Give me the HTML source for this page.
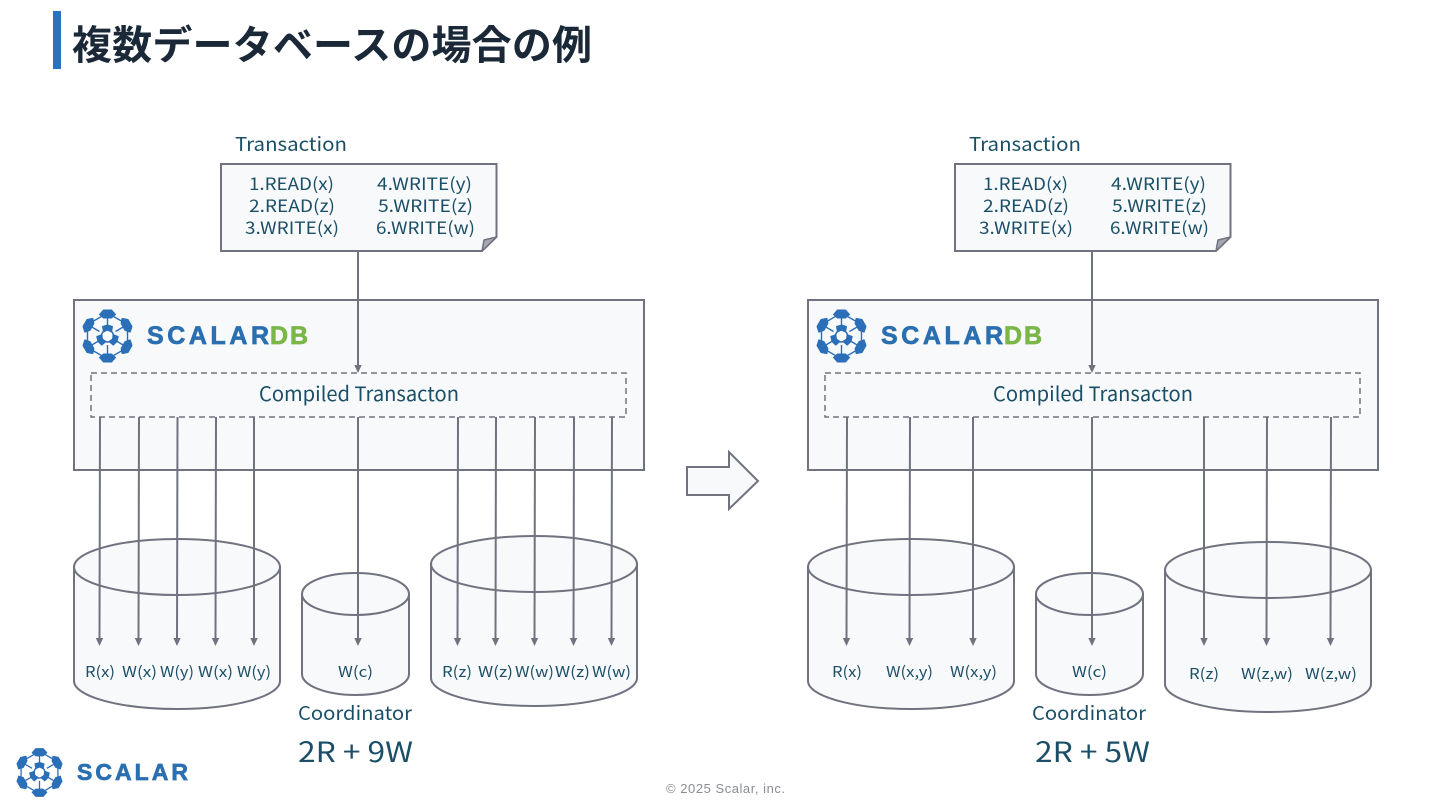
<!DOCTYPE html>
<html lang="ja"><head><meta charset="utf-8"><title>複数データベースの場合の例</title>
<style>
html,body{margin:0;padding:0;background:#fff;width:1440px;height:810px;overflow:hidden}
svg{display:block}
text{font-family:"Noto Sans CJK JP","Liberation Sans",sans-serif;fill:#1b4f67;font-weight:400}
.s{fill:#f8f9fb;stroke:#70737f;stroke-width:2}
.l{stroke:#70737f;stroke-width:2;fill:none}
</style></head><body>
<svg width="1440" height="810" viewBox="0 0 1440 810" xmlns="http://www.w3.org/2000/svg">
<defs>
<marker id="a" viewBox="0 0 8 8" refX="2" refY="4" markerWidth="8" markerHeight="8" markerUnits="userSpaceOnUse" orient="auto"><path d="M0 0.300L8 4L0 7.700Z" fill="#70737f"/></marker>
<path id="blob" d="M-8 0.500L-4 -4H4L8 0.500L4 4H-4Z" fill="#2a6fb8" stroke="#2a6fb8" stroke-width="1" stroke-linejoin="round"/>
<path id="lobe" d="M-5 -2.500L0 -4L5 -2.500L4 3L0 1L-4 3Z" fill="#2a6fb8" stroke="#2a6fb8" stroke-width="1" stroke-linejoin="round"/>
<g id="logo">
<g fill="none" stroke="#2a6fb8" stroke-width="1.400">
<path d="M0-23L20-11.500V11.500L0 23L-20 11.500V-11.500Z"/>
<path d="M0-23V-9M20-11.500L8-4.500M20 11.500L8 4.500M0 23V9M-20 11.500L-8 4.500M-20-11.500L-8-4.500"/>
</g>
<use href="#blob" transform="translate(0,-22)"/>
<use href="#blob" transform="rotate(60) translate(0,-22)"/>
<use href="#blob" transform="rotate(120) translate(0,-22)"/>
<use href="#blob" transform="rotate(180) translate(0,-22)"/>
<use href="#blob" transform="rotate(240) translate(0,-22)"/>
<use href="#blob" transform="rotate(300) translate(0,-22)"/>
<circle r="6" fill="#fff" stroke="#2a6fb8" stroke-width="1.500"/>
<use href="#lobe" transform="translate(0,-7)"/>
<use href="#lobe" transform="rotate(120) translate(0,-7)"/>
<use href="#lobe" transform="rotate(240) translate(0,-7)"/>
</g>
<g id="panel">
<text x="235" y="151" font-size="19" textLength="112" lengthAdjust="spacingAndGlyphs">Transaction</text>
<path class="s" d="M221 164H496.500V237L482 251H221Z"/>
<path d="M482 251L484 240L496.500 237Z" fill="#a5a8b1" stroke="#70737f" stroke-width="1.500" stroke-linejoin="round"/>
<g font-size="17">
<text x="249" y="190" textLength="85" lengthAdjust="spacingAndGlyphs">1.READ(x)</text>
<text x="249" y="212" textLength="86" lengthAdjust="spacingAndGlyphs">2.READ(z)</text>
<text x="245" y="234" textLength="94" lengthAdjust="spacingAndGlyphs">3.WRITE(x)</text>
<text x="377" y="190" textLength="95" lengthAdjust="spacingAndGlyphs">4.WRITE(y)</text>
<text x="378" y="212" textLength="95" lengthAdjust="spacingAndGlyphs">5.WRITE(z)</text>
<text x="376" y="234" textLength="99" lengthAdjust="spacingAndGlyphs">6.WRITE(w)</text>
</g>
<rect class="s" x="74" y="300" width="570" height="170"/>
<use href="#logo" x="107.500" y="336"/>
<text x="147" y="344" font-size="25" style="font-family:'Liberation Sans',sans-serif;font-weight:700;fill:#2a6fb0;stroke:#2a6fb0;stroke-width:.7" textLength="122" lengthAdjust="spacing">SCALAR</text>
<text x="270" y="344" font-size="25" style="font-family:'Liberation Sans',sans-serif;font-weight:700;fill:#7ab648;stroke:#7ab648;stroke-width:.7" textLength="38" lengthAdjust="spacing">DB</text>
<rect x="91" y="373" width="535" height="44" fill="#f8f9fb" stroke="#70737f" stroke-width="1.500" stroke-dasharray="6 4"/>
<text x="259" y="401" font-size="20" textLength="200" lengthAdjust="spacingAndGlyphs">Compiled Transacton</text>
<line class="l" x1="358" y1="251" x2="358" y2="367" marker-end="url(#a)"/>
</g>
</defs>
<rect x="53" y="11" width="8" height="58" fill="#2a72bb"/>
<text x="72" y="59" font-size="40" style="font-weight:700;fill:#1a2838" textLength="520" lengthAdjust="spacing">複数データベースの場合の例</text>

<use href="#panel"/>
<use href="#panel" x="734"/>

<g id="cyl">
<path class="s" d="M74 567V681A103 28 0 0 0 280 681V567Z"/><ellipse class="s" cx="177" cy="567" rx="103" ry="28"/>
<path class="s" d="M302 594V674A53.500 21 0 0 0 409 674V594Z"/><ellipse class="s" cx="355.500" cy="594" rx="53.500" ry="21"/>
</g>
<use href="#cyl" x="734"/>
<path class="s" d="M431 564V678A103 28 0 0 0 637 678V564Z"/><ellipse class="s" cx="534" cy="564" rx="103" ry="28"/>
<path class="s" d="M1165 570V684A103 28 0 0 0 1371 684V570Z"/><ellipse class="s" cx="1268" cy="570" rx="103" ry="28"/>

<g class="l">
<line x1="100" y1="417" x2="99.500" y2="640" marker-end="url(#a)"/>
<line x1="139" y1="417" x2="138.500" y2="640" marker-end="url(#a)"/>
<line x1="177.500" y1="417" x2="177" y2="640" marker-end="url(#a)"/>
<line x1="216" y1="417" x2="215.500" y2="640" marker-end="url(#a)"/>
<line x1="254" y1="417" x2="254" y2="640" marker-end="url(#a)"/>
<line x1="358" y1="417" x2="358" y2="640" marker-end="url(#a)"/>
<line x1="458" y1="417" x2="457.500" y2="640" marker-end="url(#a)"/>
<line x1="496" y1="417" x2="495.500" y2="640" marker-end="url(#a)"/>
<line x1="535" y1="417" x2="534.500" y2="640" marker-end="url(#a)"/>
<line x1="574" y1="417" x2="573.500" y2="640" marker-end="url(#a)"/>
<line x1="612" y1="417" x2="611.500" y2="640" marker-end="url(#a)"/>
<line x1="847" y1="417" x2="846.500" y2="640" marker-end="url(#a)"/>
<line x1="910" y1="417" x2="909.500" y2="640" marker-end="url(#a)"/>
<line x1="973" y1="417" x2="973" y2="640" marker-end="url(#a)"/>
<line x1="1092" y1="417" x2="1092" y2="640" marker-end="url(#a)"/>
<line x1="1204" y1="417" x2="1204" y2="640" marker-end="url(#a)"/>
<line x1="1267" y1="417" x2="1266.500" y2="640" marker-end="url(#a)"/>
<line x1="1331" y1="417" x2="1330.500" y2="640" marker-end="url(#a)"/>
</g>

<g font-size="15">
<text x="85" y="677" textLength="30" lengthAdjust="spacingAndGlyphs">R(x)</text>
<text x="122" y="677" textLength="35" lengthAdjust="spacingAndGlyphs">W(x)</text>
<text x="160" y="677" textLength="34" lengthAdjust="spacingAndGlyphs">W(y)</text>
<text x="198" y="677" textLength="35" lengthAdjust="spacingAndGlyphs">W(x)</text>
<text x="237" y="677" textLength="34" lengthAdjust="spacingAndGlyphs">W(y)</text>
<text x="338" y="677" textLength="35" lengthAdjust="spacingAndGlyphs">W(c)</text>
<text x="442" y="677" textLength="30" lengthAdjust="spacingAndGlyphs">R(z)</text>
<text x="478" y="677" textLength="35" lengthAdjust="spacingAndGlyphs">W(z)</text>
<text x="515" y="677" textLength="39" lengthAdjust="spacingAndGlyphs">W(w)</text>
<text x="555" y="677" textLength="35" lengthAdjust="spacingAndGlyphs">W(z)</text>
<text x="592" y="677" textLength="39" lengthAdjust="spacingAndGlyphs">W(w)</text>
<text x="832" y="677" textLength="30" lengthAdjust="spacingAndGlyphs">R(x)</text>
<text x="886" y="677" textLength="47" lengthAdjust="spacingAndGlyphs">W(x,y)</text>
<text x="950" y="677" textLength="47" lengthAdjust="spacingAndGlyphs">W(x,y)</text>
<text x="1072" y="677" textLength="35" lengthAdjust="spacingAndGlyphs">W(c)</text>
<text x="1189" y="679" textLength="30" lengthAdjust="spacingAndGlyphs">R(z)</text>
<text x="1241" y="679" textLength="52" lengthAdjust="spacingAndGlyphs">W(z,w)</text>
<text x="1305" y="679" textLength="52" lengthAdjust="spacingAndGlyphs">W(z,w)</text>
</g>
<text x="298" y="720" font-size="19" textLength="114" lengthAdjust="spacingAndGlyphs">Coordinator</text>
<text x="1032" y="720" font-size="19" textLength="114" lengthAdjust="spacingAndGlyphs">Coordinator</text>
<text x="298" y="762" font-size="28" textLength="115" lengthAdjust="spacingAndGlyphs">2R + 9W</text>
<text x="1035" y="762" font-size="28" textLength="115" lengthAdjust="spacingAndGlyphs">2R + 5W</text>

<path class="s" d="M687 467H729V452L758 481L729 509V495H687Z"/>

<use href="#logo" transform="translate(39.500,772.500) scale(.92)"/>
<text x="77" y="780" font-size="23" style="font-family:'Liberation Sans',sans-serif;font-weight:700;fill:#2a6fb0;stroke:#2a6fb0;stroke-width:.7" textLength="111" lengthAdjust="spacing">SCALAR</text>
<text x="666" y="793" font-size="13" style="font-family:'Liberation Sans',sans-serif;fill:#8a8d94" textLength="119" lengthAdjust="spacing">© 2025 Scalar, inc.</text>
</svg>
</body></html>
